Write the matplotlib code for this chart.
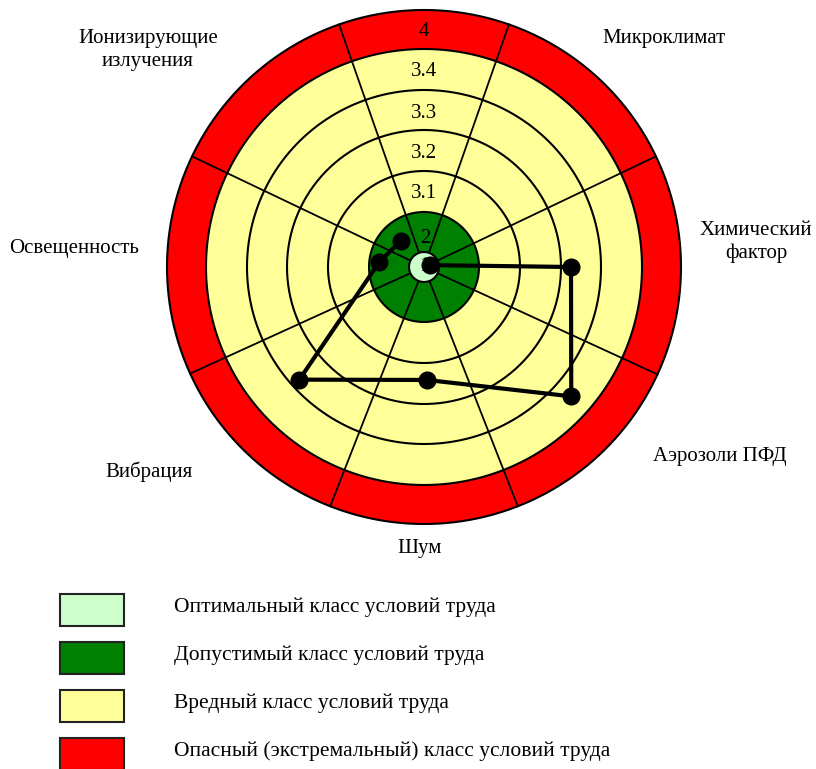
import numpy as np
import matplotlib
matplotlib.use('Agg')
import matplotlib.pyplot as plt
from matplotlib.patches import Rectangle

plt.rcParams['font.family'] = ['Liberation Serif', 'DejaVu Serif']

# factors and their position on the chart (angle clockwise from top, deg; radius in scale units)
factors = ['Микроклимат', 'Химический фактор', 'Аэрозоли ПФД', 'Шум',
           'Вибрация', 'Освещенность', 'Ионизирующие излучения']
point_angle = [71.6, 90.0, 131.3, 178.5, 227.9, 276.3, 318.5]
point_radius = [6, 147, 196, 113, 168, 45, 35]

# class ring edges (same scale units) and their labels
ring_edges = [15, 55, 96, 137, 177, 218, 257]
ring_labels = ['1', '2', '3.1', '3.2', '3.3', '3.4', '4']
ring_label_r = [1, 29, 73, 113, 153, 195, 236]
spoke_angle = [19.3, 64.5, 114.7, 158.6, 201.4, 245.5, 295.5, 340.7]

legend_labels = ['Оптимальный класс условий труда',
                 'Допустимый класс условий труда',
                 'Вредный класс условий труда',
                 'Опасный (экстремальный) класс условий труда']
legend_colors = ['#CCFFCC', '#008000', '#FFFF99', '#FF0000']

W, H = 816, 769
fig = plt.figure(figsize=(W / 100, H / 100), dpi=100)

# background axes in pixel coords for labels and the legend
bg = fig.add_axes([0, 0, 1, 1])
bg.set_xlim(0, W)
bg.set_ylim(H, 0)
bg.axis('off')

cx, cy, rmax = 424, 267, 265
ax = fig.add_axes([(cx - rmax) / W, (H - cy - rmax) / H, 2 * rmax / W, 2 * rmax / H],
                  projection='polar')
ax.set_theta_zero_location('N')
ax.set_theta_direction(-1)
ax.set_ylim(0, rmax)
ax.axis('off')

th = np.linspace(0, 2 * np.pi, 400)
# filled discs from outer to inner
fills = [(ring_edges[6], '#FF0000'), (ring_edges[5], '#FFFF99'),
         (ring_edges[1], '#008000')]
for r, c in fills:
    ax.fill(th, np.full_like(th, r), color=c, lw=0, zorder=1)

for a in spoke_angle:
    t = np.deg2rad(a)
    ax.plot([t, t], [ring_edges[0], ring_edges[6]], color='black', lw=1.3, zorder=2)

ax.fill(th, np.full_like(th, ring_edges[0]), color='#CCFFCC', lw=0, zorder=3)
for r in ring_edges:
    ax.plot(th, np.full_like(th, r), color='black', lw=1.5, zorder=3)

for lab, r in zip(ring_labels, ring_label_r):
    ax.text(0.03 if lab in ('1', '2') else 0, r, lab, ha='center', va='center',
            fontsize=15, zorder=4)

theta = np.deg2rad(point_angle)
ax.plot(theta, point_radius, color='black', lw=3, marker='o', markersize=12, zorder=5)

# category labels
label_pos = [(664, 39), (756, 242), (720, 456), (420, 549),
             (149, 472), (74, 248), (148, 50)]
for name, (x, y) in zip(factors, label_pos):
    txt = name.replace('Химический ', 'Химический\n').replace('Ионизирующие ', 'Ионизирующие\n')
    bg.text(x, y, txt, ha='center', va='center', fontsize=15, linespacing=1.25)

# legend
box_y = [594, 642, 690, 738]
for lab, col, y in zip(legend_labels, legend_colors, box_y):
    bg.add_patch(Rectangle((60, y), 64, 32, facecolor=col, edgecolor='#222222', lw=1.5))
    bg.text(174, y + 13, lab, ha='left', va='center', fontsize=15.5)

fig.savefig('out.png', dpi=100)
